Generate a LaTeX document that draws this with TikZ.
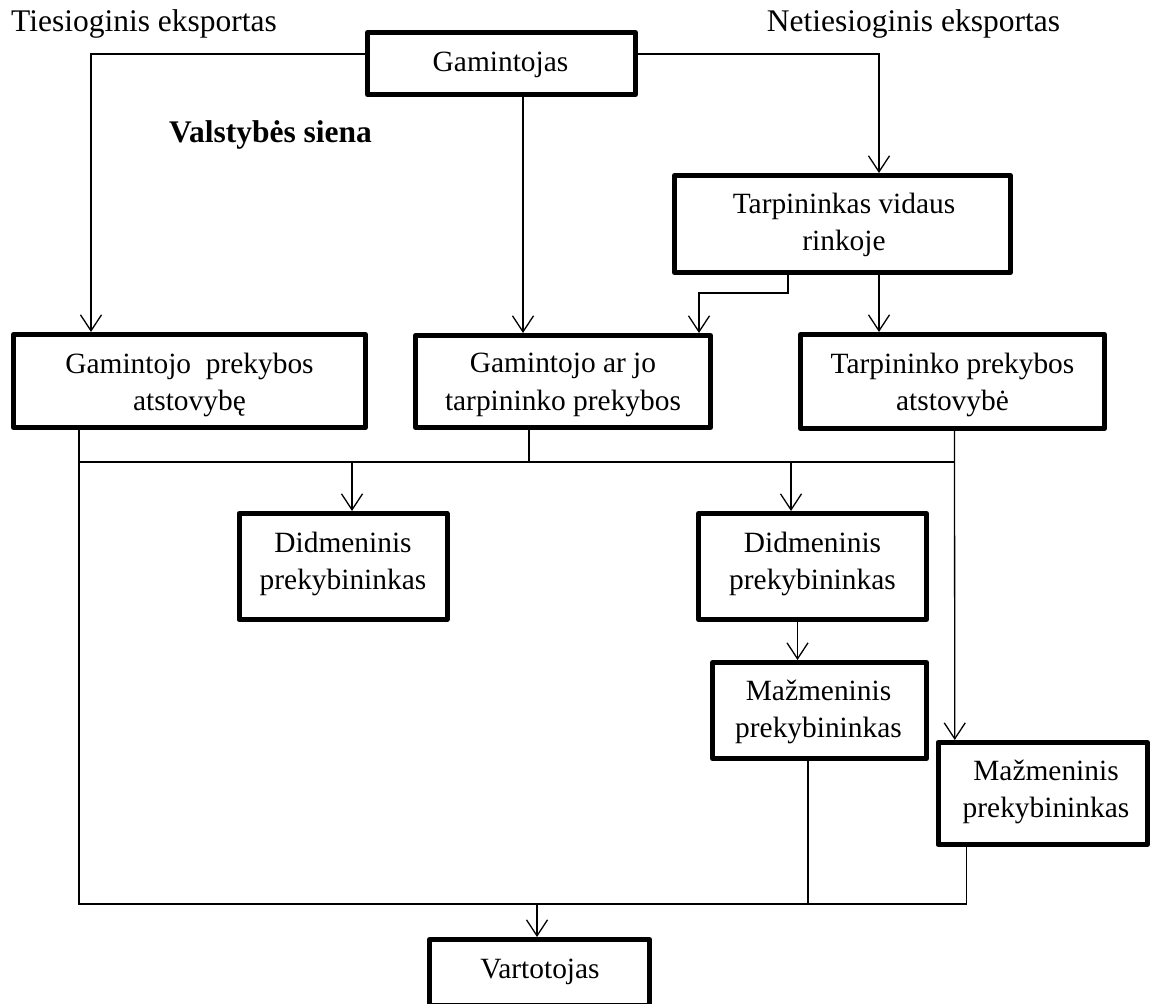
\documentclass[tikz,border=0pt]{standalone}
\usepackage{fontspec}
\setmainfont{Liberation Serif}
\usetikzlibrary{arrows.meta}
\begin{document}
\begin{tikzpicture}[x=1pt,y=-1pt,
  box/.style={draw, line width=5pt, line join=round, inner sep=0pt},
  txt/.style={font=\fontsize{29.4}{37.5}\selectfont, align=center, inner sep=0pt},
  lbl/.style={font=\fontsize{31.5}{38}\selectfont, inner sep=0pt, anchor=base},
  conn/.style={line width=1.3pt},
  arr/.style={conn, -{Straight Barb[length=16pt, width=21pt]}}]
\fill[white] (0,0) rectangle (1150,1003);
\useasboundingbox (0,0) rectangle (1150,1003);

% labels
\node[lbl] (tiesl) at (144,32) {Tiesioginis eksportas};
\node[lbl] (netl) at (913.5,32) {Netiesioginis eksportas};
\node[lbl, font=\fontsize{31.5}{38}\selectfont\bfseries] (siena) at (270.5,143) {Valstybės siena};

% boxes
\node[box, minimum width=268pt, minimum height=62pt] (g) at (501.5,63.5) {};
\node[txt] (gt-txt) at (500.5,65) {Gamintojas};

\node[box, minimum width=336pt, minimum height=97pt] (t) at (842.5,224) {};
\node[txt] (t-txt) at (844,225) {Tarpininkas vidaus\\rinkoje};

\node[box, minimum width=352pt, minimum height=93pt] (gp) at (189.5,381) {};
\node[txt] (gp-txt) at (189.5,385) {Gamintojo\ \ prekybos\\atstovybę};

\node[box, minimum width=295pt, minimum height=92pt] (gt) at (563,381.5) {};
\node[txt] (gt2-txt) at (563,385) {Gamintojo ar jo\\tarpininko prekybos};

\node[box, minimum width=304pt, minimum height=94pt] (tp) at (952.5,381.5) {};
\node[txt] (tp-txt) at (952.5,385) {Tarpininko prekybos\\atstovybė};

\node[box, minimum width=208pt, minimum height=106pt] (d1) at (343,566.5) {};
\node[txt] (d1-txt) at (343,564) {Didmeninis\\prekybininkas};

\node[box, minimum width=228pt, minimum height=106pt] (d2) at (812.5,566.5) {};
\node[txt] (d2-txt) at (812.5,564) {Didmeninis\\prekybininkas};

\node[box, minimum width=214pt, minimum height=96pt] (m1) at (819.5,710.5) {};
\node[txt] (m1-txt) at (818.5,712) {Mažmeninis\\prekybininkas};

\node[box, minimum width=209.5pt, minimum height=102pt] (m2) at (1042.75,793.5) {};
\node[txt] (m2-txt) at (1046,792) {Mažmeninis\\prekybininkas};

\node[box, minimum width=220pt, minimum height=65.5pt] (v) at (539.5,972.25) {};
\node[txt] (v-txt) at (540,971.5) {Vartotojas};

% connectors from Gamintojas
\draw[arr] ([yshift=9.5pt]g.west) -| ([xshift=-98.5pt]gp.north);
\draw[arr] ([xshift=21.5pt]g.south) -- ([xshift=21.5pt]g.south |- gt.north);
\draw[arr] ([yshift=9.5pt]g.east) -| ([xshift=36.5pt]t.north);

% from Tarpininkas vidaus rinkoje
\draw[arr] ([xshift=-54.5pt]t.south) -- ++(0,18) -| ([xshift=136pt]gt.north);
\draw[arr] ([xshift=36.5pt]t.south) -- ([xshift=36.5pt]t.south |- tp.north);

% bus lines
\coordinate (busA) at (0,462);
\coordinate (busB) at (0,904);
\coordinate (gpo) at ([xshift=-110.5pt]gp.south);
\coordinate (gto) at ([xshift=-34pt]gt.south);
\coordinate (tpo) at ([xshift=2pt]tp.south);
\coordinate (m1o) at ([xshift=-11.5pt]m1.south);
\coordinate (m2o) at ([xshift=-76.5pt]m2.south);

\draw[conn] (gpo) -- (gpo |- busB) -- (m2o |- busB) -- (m2o);
\draw[conn] (gpo |- busA) -- (tpo |- busA);
\draw[conn] (gto) -- (gto |- busA);
\draw[arr] (tpo) -- ([xshift=-88pt]m2.north);
\draw[arr] ([xshift=9pt]d1.north |- busA) -- ([xshift=9pt]d1.north);
\draw[arr] ([xshift=-21.5pt]d2.north |- busA) -- ([xshift=-21.5pt]d2.north);
\draw[arr] ([xshift=-15pt]d2.south) -- ([xshift=-15pt]d2.south |- m1.north);
\draw[conn] (m1o) -- (m1o |- busB);
\draw[arr] ([xshift=-2.5pt]v.north |- busB) -- ([xshift=-2.5pt]v.north);
\end{tikzpicture}
\end{document}
